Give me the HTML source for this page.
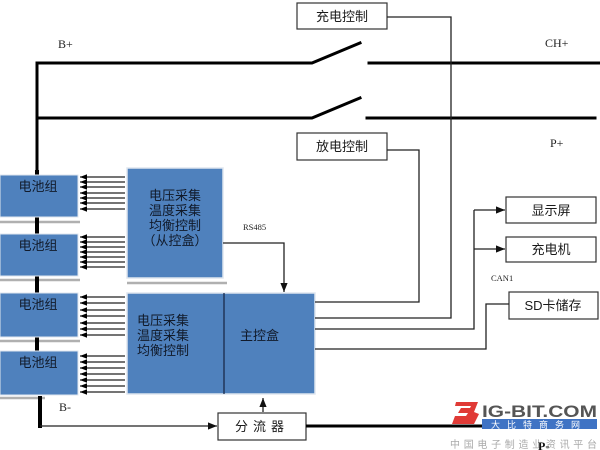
<!DOCTYPE html>
<html><head><meta charset="utf-8"><style>
html,body{margin:0;padding:0;background:#fff;}
svg{display:block;}
.cn{font-family:"Liberation Sans","Noto Sans CJK SC",sans-serif;}
.sf{font-family:"Liberation Serif","Noto Serif CJK SC",serif;}
</style></head><body>
<svg width="600" height="450" viewBox="0 0 600 450" xmlns="http://www.w3.org/2000/svg">
<defs>
<marker id="ah" viewBox="0 0 10 10" refX="10" refY="5" markerWidth="8" markerHeight="7" markerUnits="userSpaceOnUse" orient="auto"><path d="M0,1 L10,5 L0,9 z" fill="#000"/></marker>
<marker id="ah2" viewBox="0 0 10 10" refX="10" refY="5" markerWidth="9" markerHeight="9" markerUnits="userSpaceOnUse" orient="auto"><path d="M0,1 L10,5 L0,9 z" fill="#111"/></marker>
</defs>
<rect width="600" height="450" fill="#fff"/>

<!-- labels -->
<text x="58" y="48" class="sf" font-size="12" fill="#222">B+</text>
<text x="545" y="47" class="sf" font-size="12" fill="#222">CH+</text>
<text x="550" y="147" class="sf" font-size="12" fill="#222">P+</text>
<text x="59" y="411" class="sf" font-size="12" fill="#222">B-</text>
<text x="243" y="230" class="sf" font-size="8.5" fill="#222">RS485</text>
<text x="491" y="281" class="sf" font-size="8.5" fill="#222">CAN1</text>

<!-- main bus lines -->
<g stroke="#000" stroke-width="3" fill="none" stroke-linecap="square">
<polyline points="37,175 37,63 312,63 360,43"/>
<line x1="369" y1="63" x2="599" y2="63"/>
<polyline points="37,118 312,118 360,98"/>
<line x1="367" y1="118" x2="595" y2="118"/>
</g>

<!-- gray shadows under batteries -->
<g stroke="#b0b0b0" stroke-width="2.5">
<line x1="0" y1="222" x2="80" y2="222"/>
<line x1="0" y1="280" x2="80" y2="280"/>
<line x1="0" y1="341" x2="80" y2="341"/>
<line x1="0" y1="398" x2="45" y2="398"/>
<line x1="127" y1="283" x2="227" y2="283"/>
</g>
<line x1="37" y1="170" x2="37" y2="395" stroke="#000" stroke-width="4"/>
<line x1="40" y1="396" x2="40" y2="428" stroke="#000" stroke-width="4"/>

<!-- batteries -->
<g fill="#4f81bd" stroke="#dfe6ef" stroke-width="1">
<rect x="0" y="175" width="78" height="42"/>
<rect x="0" y="234" width="78" height="42"/>
<rect x="0" y="293" width="78" height="44"/>
<rect x="0" y="351" width="78" height="44"/>
</g>
<g class="cn" font-size="13" fill="#111a2a" text-anchor="middle">
<text x="38" y="191">电池组</text>
<text x="38" y="250">电池组</text>
<text x="38" y="309">电池组</text>
<text x="38" y="367">电池组</text>
</g>

<!-- arrows to batteries -->
<g stroke="#222" stroke-width="1.3" marker-end="url(#ah)">
<line x1="125" y1="177" x2="80" y2="177"/><line x1="125" y1="182" x2="80" y2="182"/><line x1="125" y1="187" x2="80" y2="187"/><line x1="125" y1="193" x2="80" y2="193"/><line x1="125" y1="198" x2="80" y2="198"/><line x1="125" y1="203" x2="80" y2="203"/><line x1="125" y1="209" x2="80" y2="209"/>
<line x1="125" y1="237" x2="80" y2="237"/><line x1="125" y1="242" x2="80" y2="242"/><line x1="125" y1="247" x2="80" y2="247"/><line x1="125" y1="252" x2="80" y2="252"/><line x1="125" y1="257" x2="80" y2="257"/><line x1="125" y1="262" x2="80" y2="262"/><line x1="125" y1="267" x2="80" y2="267"/>
<line x1="125" y1="297" x2="80" y2="297"/><line x1="125" y1="303" x2="80" y2="303"/><line x1="125" y1="310" x2="80" y2="310"/><line x1="125" y1="316" x2="80" y2="316"/><line x1="125" y1="323" x2="80" y2="323"/><line x1="125" y1="329" x2="80" y2="329"/><line x1="125" y1="335" x2="80" y2="335"/>
<line x1="125" y1="356" x2="80" y2="356"/><line x1="125" y1="362" x2="80" y2="362"/><line x1="125" y1="368" x2="80" y2="368"/><line x1="125" y1="374" x2="80" y2="374"/><line x1="125" y1="380" x2="80" y2="380"/><line x1="125" y1="386" x2="80" y2="386"/><line x1="125" y1="392" x2="80" y2="392"/>
</g>

<!-- slave box -->
<rect x="127" y="168" width="96" height="110" fill="#4f81bd" stroke="#dfe6ef" stroke-width="1.5"/>
<g class="cn" font-size="13" fill="#111a2a" text-anchor="middle">
<text x="175" y="200">电压采集</text>
<text x="175" y="215">温度采集</text>
<text x="175" y="230">均衡控制</text>
<text x="175" y="245">（从控盒）</text>
</g>

<!-- RS485 -->
<polyline points="223,243 284,243 284,292" fill="none" stroke="#222" stroke-width="1.3" marker-end="url(#ah2)"/>

<!-- main box -->
<rect x="127" y="293" width="188" height="101" fill="#4f81bd" stroke="#dfe6ef" stroke-width="1.5"/>
<line x1="224" y1="293" x2="224" y2="394" stroke="#1a2a4a" stroke-width="1.3"/>
<g class="cn" font-size="13" fill="#111a2a">
<text x="137" y="325">电压采集</text>
<text x="137" y="340">温度采集</text>
<text x="137" y="355">均衡控制</text>
<text x="240" y="340">主控盒</text>
</g>

<!-- boxes -->
<g fill="#fff" stroke="#333" stroke-width="1.2">
<rect x="297" y="3" width="90" height="26"/>
<rect x="297" y="133" width="90" height="27"/>
<rect x="506" y="197" width="90" height="26"/>
<rect x="506" y="237" width="90" height="25"/>
<rect x="509" y="292" width="89" height="27"/>
<rect x="218" y="413" width="88" height="27"/>
</g>
<g class="cn" font-size="13" fill="#1a1a1a" text-anchor="middle">
<text x="342" y="21">充电控制</text>
<text x="342" y="151">放电控制</text>
<text x="551" y="215">显示屏</text>
<text x="551" y="254">充电机</text>
<text x="553" y="310">SD卡储存</text>
<text x="262" y="431" letter-spacing="5">分流器</text>
</g>

<!-- connectors -->
<g fill="none" stroke="#222" stroke-width="1.3">
<polyline points="387,17 451,17 451,318 315,318"/>
<polyline points="387,150 419,150 419,302 315,302"/>
<polyline points="315,329 474,329 474,210"/>
<polyline points="509,304 486,304 486,349 315,349"/>
<line x1="474" y1="210" x2="505" y2="210" marker-end="url(#ah2)"/>
<line x1="474" y1="249" x2="505" y2="249" marker-end="url(#ah2)"/>
<line x1="40" y1="426" x2="217" y2="426" marker-end="url(#ah2)"/>
<line x1="263" y1="412" x2="263" y2="398" marker-end="url(#ah2)"/>
</g>
<line x1="306" y1="426" x2="485" y2="426" stroke="#000" stroke-width="3"/>

<!-- logo -->
<path d="M456,402 L478,402 L474,412 L479,414 L474,424 L452,424 L455,416 L466,416 L468,413 L458,413 L461,408 L470,408 L471,406 L455,406 z" fill="#e03a36"/>
<text x="482" y="417" font-family="Liberation Sans,sans-serif" font-weight="bold" font-size="17" fill="#555" textLength="115" lengthAdjust="spacingAndGlyphs">IG-BIT.COM</text>
<rect x="482" y="419" width="115" height="10" fill="#3f73c4"/>
<text x="539" y="428" class="cn" font-size="9" fill="#fff" text-anchor="middle" letter-spacing="7">大比特商务网</text>
<text x="450" y="448" class="cn" font-size="10" fill="#aaa" textLength="147" lengthAdjust="spacing">中国电子制造业资讯平台</text>
<text x="538" y="450" class="sf" font-size="12" font-weight="bold" fill="#111">P-</text>
</svg>
</body></html>
